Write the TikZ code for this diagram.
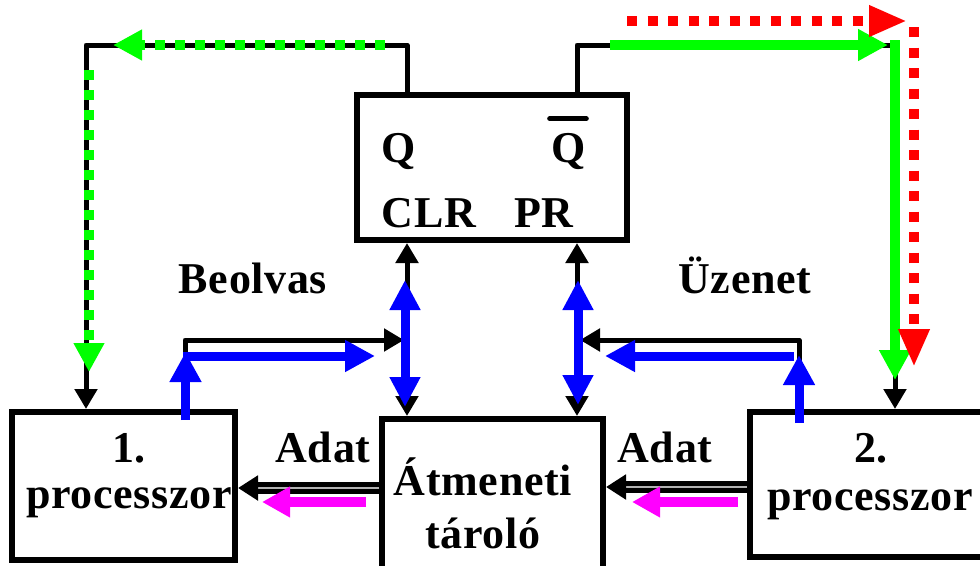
\documentclass[tikz,border=0pt]{standalone}
\usepackage{fontspec}
\setmainfont{Liberation Serif}[LetterSpace=1.5]
\usetikzlibrary{arrows.meta}
\definecolor{mag}{RGB}{255,0,255}
\definecolor{grn}{RGB}{0,255,0}
\definecolor{blu}{RGB}{0,0,255}
\definecolor{rd}{RGB}{255,0,0}
\tikzset{
  blk/.style={draw=black, line width=5pt, line join=round},
  btip/.style={-{Triangle[length=20pt,width=22pt]}},
  bbtip/.style={{Triangle[length=20pt,width=22pt]}-{Triangle[length=20pt,width=22pt]}},
  boxx/.style={draw, line width=6pt, rectangle, inner sep=0pt},
  txt/.style={font=\bfseries\fontsize{44}{46}\selectfont, inner sep=0pt, anchor=base},
  bluearr/.style={draw=blu, line width=9pt, -{Triangle[length=30pt,width=30pt]}},
  bluedbl/.style={draw=blu, line width=9pt, {Triangle[length=30pt,width=29pt]}-{Triangle[length=30pt,width=29pt]}},
  magarr/.style={draw=mag, line width=10pt, -{Triangle[length=28pt,width=29pt]}},
  gdot/.style={draw=grn, line width=10pt, line cap=butt, dash pattern=on 10pt off 10pt, -{Triangle[length=29pt,width=29pt]}},
  rdot/.style={draw=rd, line width=9.5pt, line cap=butt, dash pattern=on 10pt off 10.5pt, -{Triangle[length=38pt,width=29pt]}},
  gline/.style={draw=grn, line width=10pt, -{Triangle[length=30pt,width=30pt]}},
  adat/.style={draw=black, line width=5pt, double=gray!60, double distance=1.5pt, -{Triangle[length=20pt,width=24pt]}},
}
\begin{document}
\begin{tikzpicture}[x=1pt,y=-1pt]
\useasboundingbox (0,0) rectangle (980,565);
\clip (0,0) rectangle (980,565);
% boxes
\node[boxx, minimum width=270pt, minimum height=145pt] (ff) at (492,167.5) {};
\node[boxx, minimum width=223pt, minimum height=148pt] (p1) at (123.5,486) {};
\node[boxx, minimum width=221pt, minimum height=162pt] (buf) at (492.5,500) {};
\node[boxx, minimum width=242pt, minimum height=145pt] (p2) at (871,484.5) {};
% texts
\node[txt] (tq) at (399,162) {Q};
\node[txt] (tqb) at (569,162) {Q};
\draw[line width=5pt, line cap=round] ([xshift=-2pt,yshift=14pt]tqb.north west) -- ([xshift=0pt,yshift=14pt]tqb.north east);
\node[txt] (tclr) at (429,227) {CLR};
\node[txt] (tpr) at (544,227) {PR};
\node[txt] (t1) at (129,462) {1.};
\node[txt] (t1b) at (129,508) {processzor};
\node[txt] (t2) at (871,462) {2.};
\node[txt] (t2b) at (870,510) {processzor};
\node[txt] (tat) at (483,495) {Átmeneti};
\node[txt] (tat2) at (483,548) {tároló};
\node[txt] (tadl) at (323,462) {Adat};
\node[txt] (tadr) at (665,462) {Adat};
\node[txt] (tbe) at (253,293) {Beolvas};
\node[txt] (tuz) at (745,293) {Üzenet};
% coordinates
\coordinate (xq) at (407,0);
\coordinate (xqb) at (577,0);
\coordinate (tl) at (86,45);
\coordinate (tr) at (895,45);
\coordinate (xa) at (185,0);
\coordinate (xb) at (799,0);
\coordinate (ja) at (404,340);
\coordinate (jb) at (580,340);
\coordinate (ya) at (0,488);
\coordinate (yb) at (0,487);
% black wires
\draw[blk, btip] (ff.north -| xq) |- (tl) -- (p1.north -| tl);
\draw[blk, btip] (ff.north -| xqb) |- (tr) -- (p2.north -| tr);
\draw[blk, bbtip] (ff.south -| xq) -- (buf.north -| xq);
\draw[blk, bbtip] (ff.south -| xqb) -- (buf.north -| xqb);
\draw[blk, btip] (p1.north -| xa) |- (ja);
\draw[blk, btip] (p2.north -| xb) |- (jb);
\draw[adat] (buf.west |- ya) -- (p1.east |- ya);
\draw[adat] (p2.west |- yb) -- (buf.east |- yb);
% green dotted (left)
\coordinate (g1s) at (385,45);
\coordinate (g1e) at (113,45);
\coordinate (g2s) at (89,70);
\coordinate (g2e) at (89,372);
\draw[gdot] (g1s) -- (g1e);
\draw[gdot] (g2s) -- (g2e);
% green solid (right)
\coordinate (g3s) at (610,45);
\coordinate (g3e) at (888,45);
\coordinate (g4s) at (895,40);
\coordinate (g4e) at (895,380);
\draw[gline] (g3s) -- (g3e);
\draw[gline] (g4s) -- (g4e);
% red dotted
\coordinate (r1s) at (627,21);
\coordinate (r1e) at (907,21);
\coordinate (r2s) at (914,27);
\coordinate (r2e) at (914,367);
\draw[rdot] (r1s) -- (r1e);
\draw[rdot] (r2s) -- (r2e);
% blue
\coordinate (b1s) at (405,280);
\coordinate (b1e) at (405,407);
\coordinate (b2s) at (578,280);
\coordinate (b2e) at (578,405);
\draw[bluedbl] (b1s) -- (b1e);
\draw[bluedbl] (b2s) -- (b2e);
\coordinate (b3s) at (185.5,420);
\coordinate (b3e) at (185.5,352);
\coordinate (b4s) at (183,356);
\coordinate (b4e) at (375,356);
\draw[bluearr] (b3s) -- (b3e);
\draw[bluearr] (b4s) -- (b4e);
\coordinate (b5s) at (799,423);
\coordinate (b5e) at (799,355);
\coordinate (b6s) at (794,356);
\coordinate (b6e) at (605,356);
\draw[bluearr] (b5s) -- (b5e);
\draw[bluearr] (b6s) -- (b6e);
% magenta
\coordinate (m1s) at (366,502);
\coordinate (m1e) at (262,502);
\coordinate (m2s) at (738,502);
\coordinate (m2e) at (632,502);
\draw[magarr] (m1s) -- (m1e);
\draw[magarr] (m2s) -- (m2e);
\end{tikzpicture}
\end{document}
